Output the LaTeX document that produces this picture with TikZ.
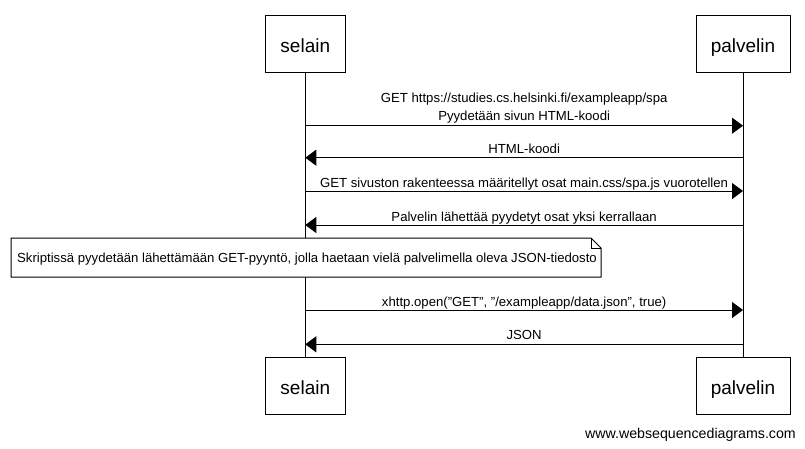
\documentclass[tikz,border=0pt]{standalone}
\usepackage{fontspec}
\setmainfont{Liberation Sans}
\usetikzlibrary{arrows.meta}
\tikzset{
  actor/.style={draw, line width=1pt, fill=white, inner sep=0pt, minimum height=57pt,
    text height=18pt, text depth=0pt, font=\fontsize{19}{22}\selectfont},
  life/.style={line width=1pt},
  msg/.style={line width=1pt, -{Triangle[length=11pt,width=16pt]}},
  lbl/.style={anchor=base, font=\fontsize{13.15}{15}\selectfont, inner sep=0pt},
  notebox/.style={line width=1pt, fill=white},
  notetext/.style={font=\fontsize{13.15}{15}\selectfont, inner sep=0pt, text height=9.4pt, text depth=0pt}
}
\begin{document}
\begin{tikzpicture}[x=1pt,y=-1pt]
\useasboundingbox (0,0) rectangle (805,448);
% participants
\node[actor, minimum width=80pt] (selT) at (305.3,43.5) {selain};
\node[actor, minimum width=94pt] (palT) at (743,43.5) {palvelin};
\node[actor, minimum width=80pt] (selB) at (305.3,385.8) {selain};
\node[actor, minimum width=94pt] (palB) at (743,385.8) {palvelin};
% lifelines
\draw[life] (selT.south) -- (selB.north);
\draw[life] (palT.south) -- (palB.north);
% message anchor points
\foreach \n/\y in {1/125.7,2/157.7,3/191,4/225,5/310,6/344.3}{
  \coordinate (s\n) at (selT.south |- 0,\y);
  \coordinate (p\n) at (palT.south |- 0,\y);
}
% messages
\draw[msg] (s1) -- node[lbl, yshift=23pt] (l1a) {GET https://studies.cs.helsinki.fi/exampleapp/spa}
                   node[lbl, yshift=5.5pt] (l1b) {Pyydetään sivun HTML-koodi} (p1);
\draw[msg] (p2) -- node[lbl, yshift=4.4pt] (l2) {HTML-koodi} (s2);
\draw[msg] (s3) -- node[lbl, yshift=3.5pt] (l3) {GET sivuston rakenteessa määritellyt osat main.css/spa.js vuorotellen} (p3);
\draw[msg] (p4) -- node[lbl, yshift=3.8pt] (l4) {Palvelin lähettää pyydetyt osat yksi kerrallaan} (s4);
% note
\coordinate (nNW) at (11,238);
\coordinate (nFa) at (591,238);
\coordinate (nFb) at (601,248);
\coordinate (nSE) at (601,277);
\coordinate (nSW) at (11,277);
\draw[notebox] (nNW) -- (nFa) -- (nFb) -- (nSE) -- (nSW) -- cycle;
\draw[line width=1pt] (nFa) -- (nFa |- nFb) -- (nFb);
\node[notetext] (note) at (307,257.5) {Skriptissä pyydetään lähettämään GET-pyyntö, jolla haetaan vielä palvelimella oleva JSON-tiedosto};
\draw[msg] (s5) -- node[lbl, yshift=3.6pt] (l5) {xhttp.open(\symbol{34}GET\symbol{34}, \symbol{34}/exampleapp/data.json\symbol{34}, true)} (p5);
\draw[msg] (p6) -- node[lbl, yshift=4.6pt] (l6) {JSON} (s6);
% watermark
\node[anchor=base east, inner sep=0pt, font=\fontsize{14.2}{16}\selectfont] (wm) at (796,438.5) {www.websequencediagrams.com};
\end{tikzpicture}
\end{document}
